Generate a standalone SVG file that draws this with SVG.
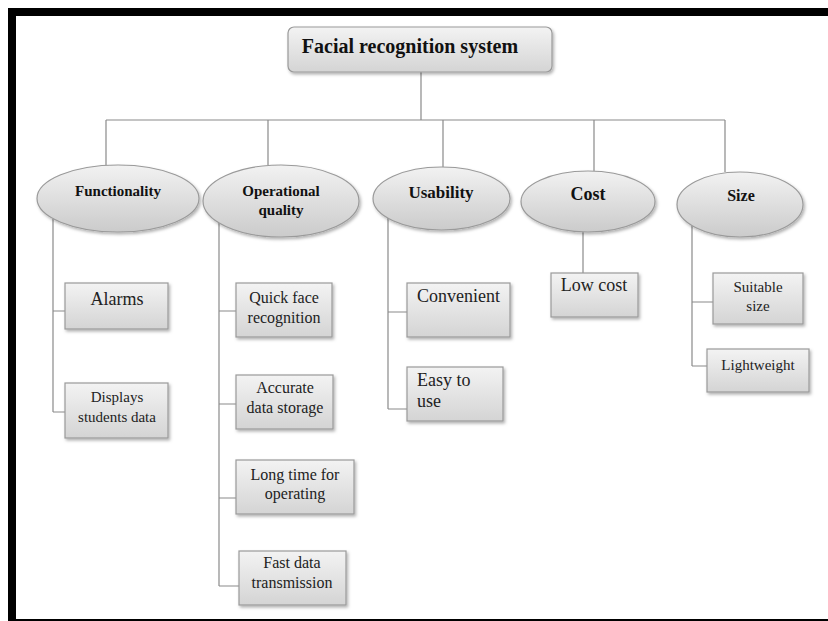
<svg xmlns="http://www.w3.org/2000/svg" width="828" height="621" viewBox="0 0 828 621">
<defs>
<linearGradient id="gBox" x1="0" y1="0" x2="0" y2="1"><stop offset="0" stop-color="#f3f3f3"/><stop offset="1" stop-color="#d4d4d4"/></linearGradient>
<linearGradient id="gEll" x1="0" y1="0" x2="0" y2="1"><stop offset="0" stop-color="#f2f2f2"/><stop offset="1" stop-color="#cbcbcb"/></linearGradient>
<filter id="sh" x="-10%" y="-10%" width="125%" height="135%"><feDropShadow dx="1.5" dy="2" stdDeviation="1.5" flood-color="#000" flood-opacity="0.3"/></filter>
<style>
.box{fill:url(#gBox);stroke:#9a9a9a;stroke-width:1.2;filter:url(#sh)}
.ell{fill:url(#gEll);stroke:#9a9a9a;stroke-width:1.2;filter:url(#sh)}
.con{fill:none;stroke:#8a8a8a;stroke-width:1.2}
.hd{font-family:"Liberation Serif","Times New Roman",serif;font-weight:bold;fill:#111;text-anchor:middle}
.tx{font-family:"Liberation Serif","Times New Roman",serif;fill:#222;text-anchor:middle}
.txl{font-family:"Liberation Serif","Times New Roman",serif;fill:#222}
</style>
</defs>
<rect width="828" height="621" fill="#fff"/>
<g id="frame">
<rect x="8" y="8" width="820" height="8" fill="#000"/>
<rect x="8" y="8" width="8" height="613" fill="#000"/>
<rect x="8" y="619" width="820" height="2" fill="#000"/>
</g>
<g id="connectors" class="con">
<path d="M421,72 V120 M106,120 H725 M106,120 V165 M268,120 V165 M443,120 V167 M594,120 V171 M725,120 V172"/>
<path d="M53,219 V412 M53,311 H65 M53,412 H65"/>
<path d="M219,223 V586 M219,311 H236 M219,404 H236 M219,498 H236 M219,586 H239"/>
<path d="M388,218 V409 M388,312 H407 M388,409 H407"/>
<path d="M583,232 V273"/>
<path d="M692,226 V366 M692,302 H713 M692,366 H707"/>
</g>
<g id="root">
<rect class="box" x="288" y="27" width="264" height="45" rx="6"/>
<text class="hd" x="410" y="53" font-size="20">Facial recognition system</text>
</g>
<g id="functionality">
<ellipse class="ell" cx="118" cy="198.5" rx="81" ry="33.5"/>
<text class="hd" x="118" y="196" font-size="15">Functionality</text>
</g>
<g id="operational">
<ellipse class="ell" cx="281" cy="201" rx="78" ry="36"/>
<text class="hd" x="281" y="196" font-size="15">Operational</text>
<text class="hd" x="281" y="215" font-size="15">quality</text>
</g>
<g id="usability">
<ellipse class="ell" cx="441.5" cy="198.5" rx="68.5" ry="31.5"/>
<text class="hd" x="441" y="198" font-size="17">Usability</text>
</g>
<g id="cost">
<ellipse class="ell" cx="588" cy="201.5" rx="67" ry="30.5"/>
<text class="hd" x="588" y="200" font-size="18">Cost</text>
</g>
<g id="size">
<ellipse class="ell" cx="740" cy="204.5" rx="63" ry="32.5"/>
<text class="hd" x="741" y="201" font-size="16">Size</text>
</g>
<g id="alarms">
<rect class="box" x="65" y="283" width="103" height="46"/>
<text class="tx" x="117" y="305" font-size="18">Alarms</text>
</g>
<g id="displays">
<rect class="box" x="65" y="383" width="103" height="55"/>
<text class="tx" x="117" y="402" font-size="15">Displays</text>
<text class="tx" x="117" y="422" font-size="15">students data</text>
</g>
<g id="quickface">
<rect class="box" x="236" y="283" width="96" height="54"/>
<text class="tx" x="284" y="303" font-size="16">Quick face</text>
<text class="tx" x="284" y="323" font-size="16">recognition</text>
</g>
<g id="accurate">
<rect class="box" x="236" y="375" width="97" height="54"/>
<text class="tx" x="285" y="393" font-size="16">Accurate</text>
<text class="tx" x="285" y="413" font-size="16">data storage</text>
</g>
<g id="longtime">
<rect class="box" x="236" y="460" width="118" height="54"/>
<text class="tx" x="295" y="480" font-size="16">Long time for</text>
<text class="tx" x="295" y="499" font-size="16">operating</text>
</g>
<g id="fastdata">
<rect class="box" x="239" y="551" width="107" height="54"/>
<text class="tx" x="292" y="568" font-size="16">Fast data</text>
<text class="tx" x="292" y="588" font-size="16">transmission</text>
</g>
<g id="convenient">
<rect class="box" x="407" y="283" width="103" height="54"/>
<text class="txl" x="417" y="302" font-size="18">Convenient</text>
</g>
<g id="easytouse">
<rect class="box" x="407" y="367" width="96" height="54"/>
<text class="txl" x="417" y="386" font-size="18">Easy to</text>
<text class="txl" x="417" y="407" font-size="18">use</text>
</g>
<g id="lowcost">
<rect class="box" x="551" y="273" width="87" height="44"/>
<text class="tx" x="594" y="291" font-size="18">Low cost</text>
</g>
<g id="suitable">
<rect class="box" x="713" y="273" width="90" height="51"/>
<text class="tx" x="758" y="292" font-size="15">Suitable</text>
<text class="tx" x="758" y="311" font-size="15">size</text>
</g>
<g id="lightweight">
<rect class="box" x="707" y="349" width="102" height="43"/>
<text class="tx" x="758" y="370" font-size="15">Lightweight</text>
</g>
</svg>
